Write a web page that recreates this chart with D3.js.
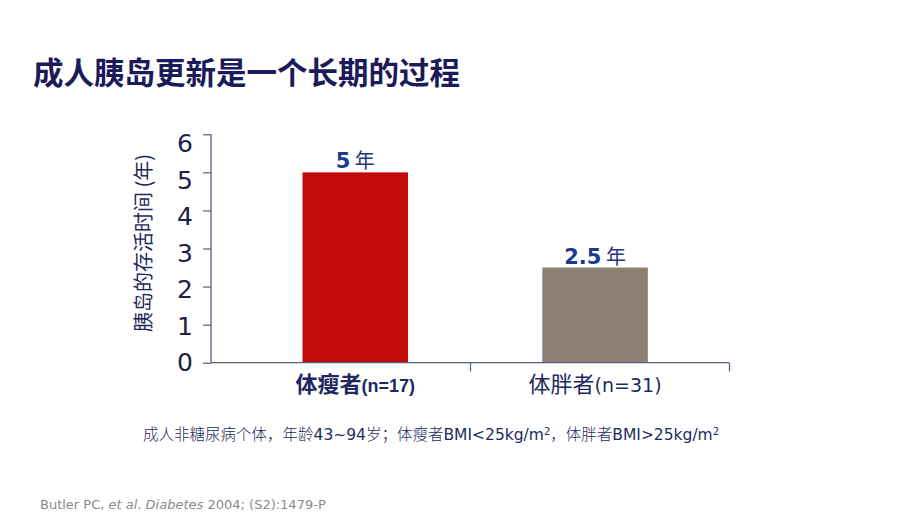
<!DOCTYPE html>
<html><head><meta charset="utf-8">
<script src="https://cdn.jsdelivr.net/npm/d3@7"></script>
<style>
html,body{margin:0;padding:0;background:#fff;}
svg{display:block;}
</style></head>
<body>
<script>
const title = "成人胰岛更新是一个长期的过程";
const categories = ["体瘦者", "体胖者"];
const sampleSizes = ["(n=17)", "(n=31)"];
const values = [5, 2.5];
const valueLabels = ["5", "2.5"];
const unit = "年";
const barColors = ["#c20a0a", "#8c8073"];
const yTicks = [0, 1, 2, 3, 4, 5, 6];
const yTitle = "胰岛的存活时间 (年)";
const footnoteParts = [
  {t:"成人非糖尿病个体，年龄", cjk:true},
  {t:"43~94", cjk:false},
  {t:"岁；体瘦者", cjk:true},
  {t:"BMI<25kg/m", cjk:false},
  {t:"2", cjk:false, sup:true},
  {t:"，体胖者", cjk:true},
  {t:"BMI>25kg/m", cjk:false},
  {t:"2", cjk:false, sup:true}
];
const citation = [
  {t:"Butler PC, ", i:false},
  {t:"et al", i:true},
  {t:". ", i:false},
  {t:"Diabetes", i:true},
  {t:" 2004; (S2):1479-P", i:false}
];

const W = 920, H = 518;
const svg = d3.select("body").append("svg").attr("width", W).attr("height", H);
const CJK = "'Noto Sans CJK SC', sans-serif";
const LAT = "'DejaVu Sans', Verdana, sans-serif";

// Title
svg.append("text").attr("x", 33).attr("y", 84)
  .attr("font-family", CJK).attr("font-weight", 700).attr("font-size", 30.5)
  .attr("fill", "#1b1a5a").text(title);

// Scales
const x0 = 211, x1 = 729, yBase = 362.7, yTop = 134.3;
const y = d3.scaleLinear().domain([0, 6]).range([yBase, yTop]);
const yLab = d3.scaleLinear().domain([0, 6]).range([362, 143]);
const x = d3.scaleBand().domain(categories).range([x0, x1])
  .paddingInner(0.56).paddingOuter(0.36).align(0.53);
const xb = d3.scaleLinear().domain([0, categories.length]).range([x0, x1]);

// Bars
svg.selectAll("rect.bar").data(values).enter().append("rect")
  .attr("class", "bar")
  .attr("x", (d, i) => x(categories[i]))
  .attr("width", x.bandwidth())
  .attr("y", d => y(d))
  .attr("height", d => y(0) - y(d))
  .attr("fill", (d, i) => barColors[i]);

// Y axis
const yAxis = svg.append("g").attr("transform", `translate(${x0},0)`)
  .call(d3.axisLeft(y).tickValues(yTicks).tickSize(8).tickFormat(""));
yAxis.select(".domain").attr("stroke", "#56607c").attr("stroke-width", 1.3).attr("d", `M0,${yTop}V${yBase}`);
yAxis.selectAll(".tick line").attr("stroke", "#56607c").attr("stroke-width", 1.2);
svg.selectAll("text.ylab").data(yTicks).enter().append("text")
  .attr("class", "ylab")
  .attr("x", 193).attr("y", d => yLab(d))
  .attr("dy", "0.36em")
  .attr("text-anchor", "end")
  .attr("font-family", LAT).attr("font-size", 25)
  .attr("fill", "#1c2147").text(d => d);

// X axis
const xAxis = svg.append("g").attr("transform", `translate(0,${yBase})`)
  .call(d3.axisBottom(xb).tickValues(d3.range(categories.length + 1)).tickSize(9).tickFormat(""));
xAxis.select(".domain").attr("stroke", "#56607c").attr("stroke-width", 1.3).attr("d", `M${x0},0H${x1}`);
xAxis.selectAll(".tick line").attr("stroke", "#56607c").attr("stroke-width", 1.2);
xAxis.selectAll(".tick").filter(d => d === 0).remove();

// Category labels
categories.forEach((c, i) => {
  const t = svg.append("text")
    .attr("x", x(c) + x.bandwidth() / 2).attr("y", 392)
    .attr("text-anchor", "middle").attr("fill", "#1f2860");
  if (i === 0) {
    t.append("tspan").attr("font-family", CJK).attr("font-weight", 700).attr("font-size", 22).text(c);
    t.append("tspan").attr("font-family", "'Liberation Sans', Arial, sans-serif").attr("font-weight", 700).attr("font-size", 18).text(sampleSizes[i]);
  } else {
    t.append("tspan").attr("font-family", CJK).attr("font-size", 22).text(c);
    t.append("tspan").attr("font-family", LAT).attr("font-size", 19).text(sampleSizes[i]);
  }
});

// Value labels
values.forEach((v, i) => {
  const t = svg.append("text")
    .attr("x", x(categories[i]) + x.bandwidth() / 2).attr("y", y(v) - 4)
    .attr("text-anchor", "middle");
  t.append("tspan").attr("font-family", LAT).attr("font-weight", 700).attr("font-size", 21)
    .attr("fill", "#1e3a8a").text(valueLabels[i]);
  t.append("tspan").attr("font-family", CJK).attr("font-size", 20)
    .attr("fill", "#26367a").text(" " + unit);
});

// Y title
svg.append("text")
  .attr("transform", `translate(151,243) rotate(-90)`)
  .attr("text-anchor", "middle")
  .attr("font-family", CJK).attr("font-size", 20)
  .attr("fill", "#1f2860").text(yTitle);

// Footnote
const fn = svg.append("text").attr("x", 143).attr("y", 440).attr("fill", "#1f2a5c");
footnoteParts.forEach(p => {
  const ts = fn.append("tspan")
    .attr("font-family", p.cjk ? CJK : LAT)
    .attr("font-size", p.sup ? 10 : 15.5)
    .attr("font-weight", p.cjk ? 300 : 400)
    .text(p.t);
  if (p.sup) ts.attr("baseline-shift", "super");
});

// Citation
const ct = svg.append("text").attr("x", 40).attr("y", 509)
  .attr("font-family", LAT).attr("font-size", 13).attr("fill", "#8a8a8a");
citation.forEach(p => {
  ct.append("tspan").attr("font-style", p.i ? "italic" : "normal").text(p.t);
});
</script>
</body></html>
